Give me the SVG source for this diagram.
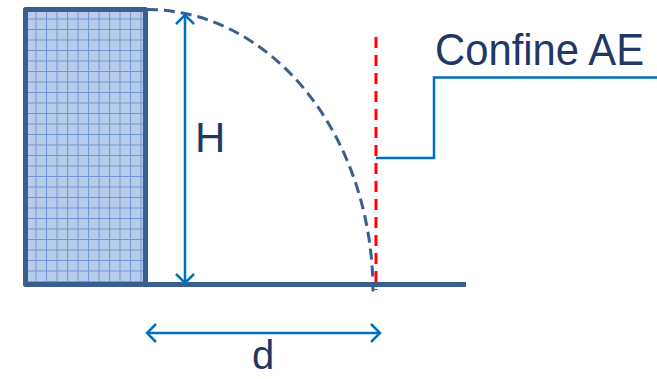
<svg xmlns="http://www.w3.org/2000/svg" width="657" height="379" viewBox="0 0 657 379">
<defs>
<pattern id="grid" x="25" y="8" width="10.5" height="10.5" patternUnits="userSpaceOnUse">
<rect width="10.5" height="10.5" fill="#B7CBEA"/>
<path d="M0 0.5H10.5M0.5 0V10.5" stroke="#6E97D4" stroke-width="1"/>
</pattern>
<marker id="chev" viewBox="-10 -10 20 20" markerWidth="20" markerHeight="20" refX="0" refY="0" orient="auto-start-reverse" markerUnits="userSpaceOnUse">
<path d="M-9 -9L0 0L-9 9" fill="none" stroke="#0070C0" stroke-width="2.5"/>
</marker>
<style>
.txt{font-family:"Liberation Sans",Arial,sans-serif;fill:#1F3864}
.dim{fill:none;stroke:#0070C0;stroke-width:2.5}
</style>
</defs>
<g id="wall">
<rect x="25.5" y="9.5" width="120" height="275" fill="url(#grid)" stroke="#3A5F8F" stroke-width="5" stroke-linejoin="round"/>
</g>
<g id="ground">
<line x1="145" y1="284.5" x2="466" y2="284.5" stroke="#3A5F8F" stroke-width="5"/>
</g>
<g id="trajectory">
<path d="M147 9.5A226 282 0 0 1 373 291.5" fill="none" stroke="#3A5F8F" stroke-width="3" stroke-dasharray="11 6"/>
</g>
<g id="limit">
<line x1="376" y1="37" x2="376" y2="290" stroke="#FF0000" stroke-width="3" stroke-dasharray="11 7"/>
</g>
<g id="label-H">
<text class="txt" x="195" y="152" font-size="42">H</text>
</g>
<g id="label-d">
<text class="txt" x="252" y="369" font-size="40">d</text>
</g>
<g id="label-confine">
<text class="txt" x="435" y="65" font-size="44" textLength="209" lengthAdjust="spacingAndGlyphs">Confine AE</text>
</g>
<g id="connectors">
<line class="dim" x1="185" y1="15" x2="185" y2="283" marker-start="url(#chev)" marker-end="url(#chev)"/>
<line class="dim" x1="147" y1="333" x2="380" y2="333" marker-start="url(#chev)" marker-end="url(#chev)"/>
<polyline class="dim" points="376,158 434,158 434,77.5 657,77.5"/>
</g>
</svg>
